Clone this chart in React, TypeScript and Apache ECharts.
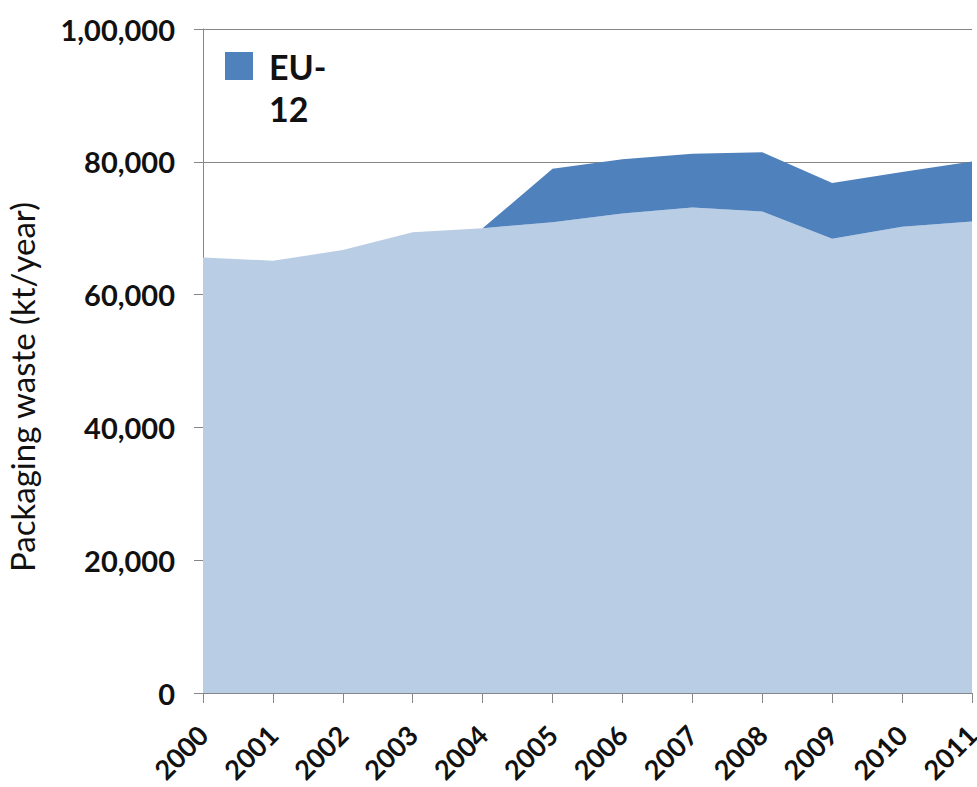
import React, { useEffect, useRef } from 'react';
import * as echarts from 'echarts';

const years = ['2000', '2001', '2002', '2003', '2004', '2005', '2006', '2007', '2008', '2009', '2010', '2011'];
const eu15 = [65600, 65100, 66700, 69400, 70000, 70900, 72200, 73100, 72500, 68400, 70200, 71000];
const eu12 = [null, null, null, null, 0, 8050, 8200, 8100, 8950, 8400, 8250, 9050];
const yTickLabels = ['0', '20,000', '40,000', '60,000', '80,000', '1,00,000'];
const yAxisTitle = 'Packaging waste (kt/year)';

export default function App() {
  const ref = useRef<HTMLDivElement>(null);
  useEffect(() => {
    document.body.style.margin = '0';
    const chart = echarts.init(ref.current!, null, { renderer: 'svg' });
    chart.setOption({
      animation: false,
      grid: { left: 203, right: 5, top: 29, bottom: 94, containLabel: false, outerBoundsMode: 'none' },
      legend: {
        data: ['EU-12'],
        left: 225,
        top: 45,
        padding: 0,
        itemWidth: 39,
        itemHeight: 70,
        icon: 'path://M0,0H28V28H0Z M39,70',
        itemStyle: { borderWidth: 0 },
        formatter: () => 'EU-\n12',
        selectedMode: false,
        textStyle: { fontFamily: 'Lato', fontWeight: 'bold', fontSize: 34, lineHeight: 42, color: '#111' },
      },
      xAxis: {
        type: 'category',
        data: years,
        boundaryGap: false,
        axisLine: { lineStyle: { color: '#868686', width: 1 } },
        axisTick: { show: true, length: 10, interval: 0, lineStyle: { color: '#868686' } },
        axisLabel: {
          rotate: 45,
          interval: 0,
          margin: 37,
          fontFamily: 'Lato',
          fontWeight: 'bold',
          fontSize: 27,
          lineHeight: 27,
          color: '#111',
        },
        splitLine: { show: false },
      },
      yAxis: {
        type: 'value',
        min: 0,
        max: 100000,
        interval: 20000,
        axisLine: { show: true, lineStyle: { color: '#868686', width: 1 } },
        axisTick: { show: true, length: 9, lineStyle: { color: '#868686' } },
        axisLabel: {
          margin: 28,
          formatter: (v: number) => yTickLabels[Math.round(v / 20000)],
          fontFamily: 'Lato',
          fontWeight: 'bold',
          fontSize: 29,
          color: '#111',
        },
        splitLine: { show: true, lineStyle: { color: '#868686', width: 1 } },
      },
      series: [
        {
          name: 'EU-15',
          type: 'line',
          stack: 'total',
          data: eu15,
          symbol: 'none',
          lineStyle: { width: 0 },
          itemStyle: { color: '#B9CDE5' },
          areaStyle: { color: '#B9CDE5', opacity: 1 },
        },
        {
          name: 'EU-12',
          type: 'line',
          stack: 'total',
          data: eu12,
          symbol: 'none',
          lineStyle: { width: 0 },
          itemStyle: { color: '#4F81BD' },
          areaStyle: { color: '#4F81BD', opacity: 1 },
        },
      ],
      graphic: [
        {
          type: 'text',
          x: 22,
          y: 387,
          rotation: Math.PI / 2,
          style: {
            text: yAxisTitle,
            fontFamily: 'Lato',
            fontSize: 33,
            fill: '#111',
            textAlign: 'center',
            textVerticalAlign: 'middle',
          },
        },
      ],
    });
    return () => chart.dispose();
  }, []);
  return <div ref={ref} style={{ width: 977, height: 787 }} />;
}
